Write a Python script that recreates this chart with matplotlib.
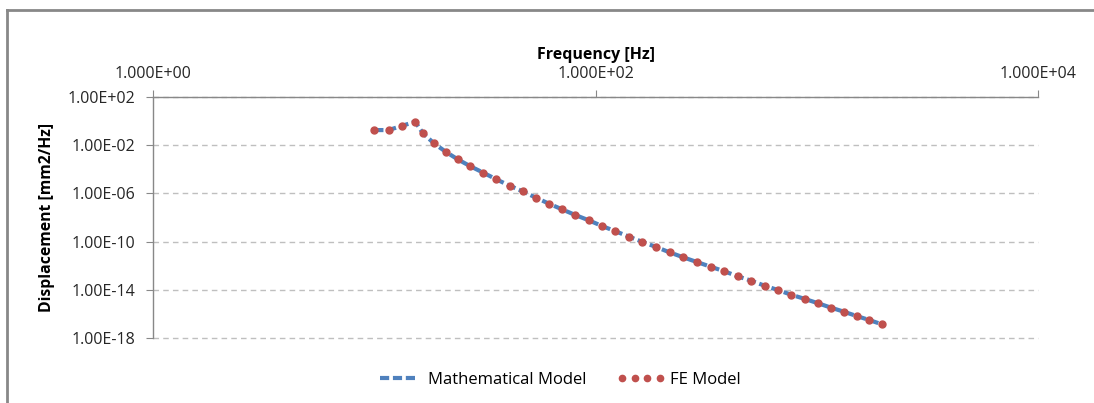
import matplotlib.pyplot as plt
from matplotlib.lines import Line2D
from matplotlib.ticker import FixedLocator, NullLocator

# frequency [Hz]
freq = [10, 11.6, 13.4, 15.3, 16.6, 18.6, 21.0, 23.8, 27.2, 31.1,
        35.6, 40.9, 46.8, 53.8, 61.6, 70.5, 81.0, 93.1, 107, 123,
        142, 163, 188, 216, 249, 287, 331, 382, 439, 505,
        581, 667, 766, 884, 1015, 1161, 1326, 1513, 1725, 1969]

# displacement PSD [mm2/Hz]
math_model = [0.18, 0.18, 0.415, 0.89, 0.097, 1.44e-2, 2.9e-3, 6.8e-4, 1.77e-4, 5.2e-5,
              1.48e-5, 4.36e-6, 1.49e-6, 4.4e-7, 1.40e-7, 4.8e-8, 1.61e-8, 5.9e-9, 1.97e-9, 7.2e-10,
              2.55e-10, 9.3e-11, 3.56e-11, 1.29e-11, 4.98e-12, 2.03e-12, 8.3e-13, 3.43e-13, 1.32e-13, 5.7e-14,
              2.19e-14, 9.6e-15, 3.92e-15, 1.73e-15, 7.6e-16, 3.27e-16, 1.52e-16, 6.7e-17, 3.12e-17, 1.37e-17]
fe_model = list(math_model)

xticks = [1, 100, 10000]
xlabels = ['1.000E+00', '1.000E+02', '1.000E+04']
yticks = [1e2, 1e-2, 1e-6, 1e-10, 1e-14, 1e-18]
ylabels = ['1.00E+02', '1.00E-02', '1.00E-06', '1.00E-10', '1.00E-14', '1.00E-18']

plt.rcParams['font.family'] = ['Open Sans', 'DejaVu Sans']

fig = plt.figure(figsize=(10.94, 4.03), dpi=100)
ax = fig.add_axes([0.1399, 0.1613, 0.8089, 0.598])

# chart frame (only top and left edges show in the original)
fig.add_artist(Line2D([0.0065, 1.0], [0.975, 0.975], transform=fig.transFigure,
                      color='#888888', linewidth=2))
fig.add_artist(Line2D([0.0065, 0.0065], [0.0, 0.975], transform=fig.transFigure,
                      color='#888888', linewidth=2))

BLUE = '#4F81BD'
RED = '#C0504D'

ax.plot(freq, math_model, color=BLUE, linewidth=3, linestyle=(0, (2.2, 0.9)), zorder=3)
ax.plot(freq, fe_model, linestyle='none', marker='o', markersize=5,
        color=RED, zorder=4)

ax.set_xscale('log')
ax.set_yscale('log')
ax.set_xlim(1, 10000)
ax.set_ylim(1e-18, 1e2)

ax.xaxis.set_major_locator(FixedLocator(xticks))
ax.xaxis.set_minor_locator(NullLocator())
ax.set_xticklabels(xlabels)
ax.yaxis.set_major_locator(FixedLocator(yticks))
ax.yaxis.set_minor_locator(NullLocator())
ax.set_yticklabels(ylabels)

ax.xaxis.tick_top()
ax.xaxis.set_label_position('top')
ax.tick_params(axis='x', direction='out', length=5, color='#888888', labelsize=11.5,
               labelcolor='#262626', pad=6)
ax.tick_params(axis='y', direction='out', length=5, color='#888888', labelsize=11.5,
               labelcolor='#262626', pad=8)

for side in ['bottom', 'right']:
    ax.spines[side].set_visible(False)
for side in ['top', 'left']:
    ax.spines[side].set_color('#888888')
    ax.spines[side].set_linewidth(1)

ax.grid(axis='y', color='#BFBFBF', linestyle=(0, (4, 3)), linewidth=1)
ax.set_axisbelow(True)
for gl in ax.get_ygridlines():
    gl.set_clip_on(False)

ax.set_xlabel('Frequency [Hz]', fontweight='bold', fontsize=11.5, labelpad=5)
ax.set_ylabel('Displacement [mm2/Hz]', fontweight='bold', fontsize=11.3, labelpad=9)

handles = [Line2D([], [], color=BLUE, linewidth=3, linestyle=(0, (2.2, 0.9))),
           Line2D([], [], color=RED, linestyle='none', marker='o', markersize=4.5)]
fig.legend(handles, ['Mathematical Model', 'FE Model'], loc='center',
           bbox_to_anchor=(0.51, 0.058), ncol=2, frameon=False,
           numpoints=4, handlelength=2.9, fontsize=12, columnspacing=1.8,
           handletextpad=0.3)

fig.savefig('out.png', dpi=100)
